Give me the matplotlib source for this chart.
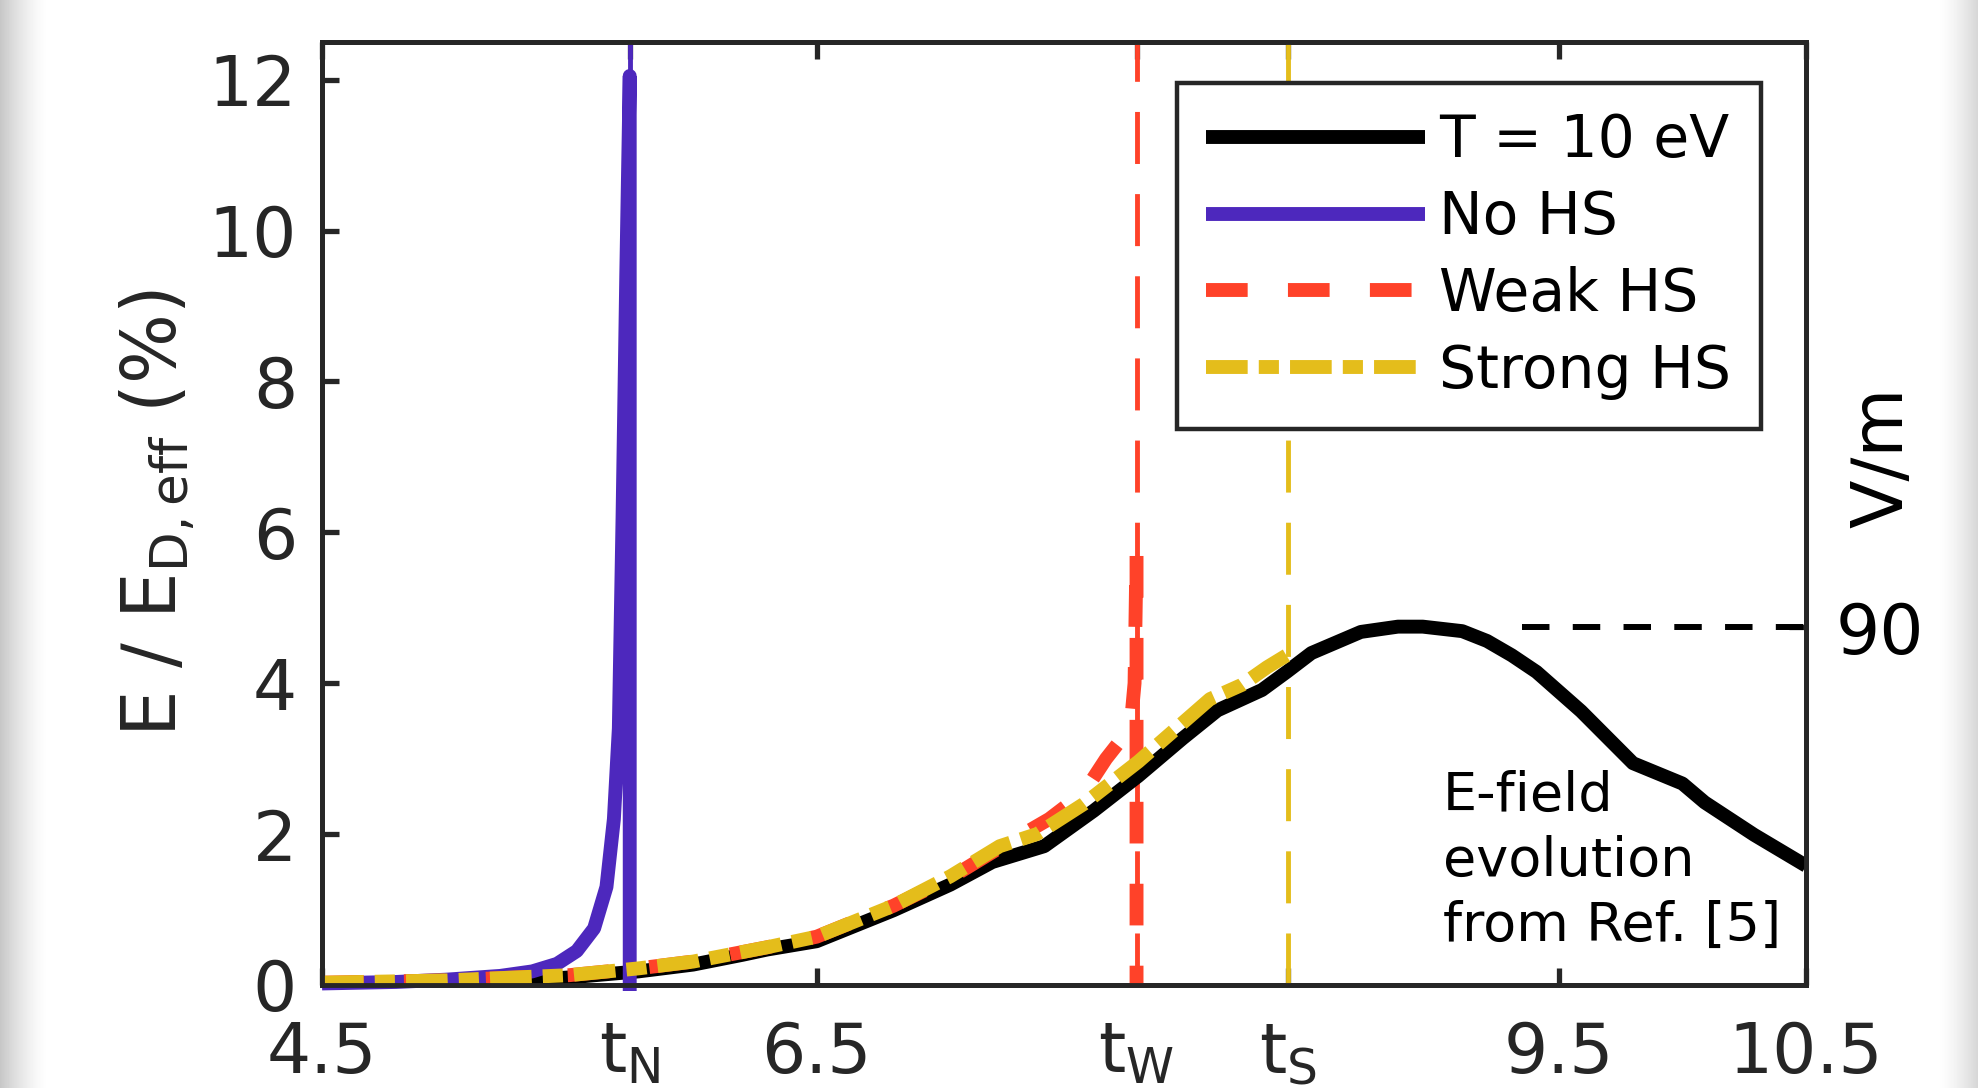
import numpy as np
import matplotlib.pyplot as plt

plt.rcParams['font.family'] = 'DejaVu Sans'
plt.rcParams['mathtext.default'] = 'regular'

# characteristic times (ms)
t_N, t_W, t_S = 5.744, 7.793, 8.405

# T = 10 eV, E-field evolution (% of E_D,eff)
t_ref = [4.5, 4.8, 5.0, 5.26, 5.5, 5.78, 6.0, 6.2, 6.3, 6.5, 6.81, 7.04, 7.21, 7.42, 7.62,
         7.8, 7.98, 8.12, 8.3, 8.4, 8.5, 8.7, 8.85, 8.95, 9.11, 9.21, 9.31, 9.41, 9.59,
         9.8, 10.0, 10.09, 10.29, 10.5]
E_ref = [0.0, 0.02, 0.03, 0.05, 0.1, 0.18, 0.27, 0.4, 0.47, 0.58, 0.99, 1.33, 1.63, 1.84, 2.31,
         2.77, 3.27, 3.64, 3.91, 4.15, 4.4, 4.68, 4.75, 4.75, 4.69, 4.56, 4.37, 4.15, 3.63,
         2.94, 2.67, 2.42, 1.99, 1.58]

# No HS
t_nohs = [4.5, 4.8, 5.0, 5.22, 5.35, 5.45, 5.53, 5.6, 5.65, 5.68, 5.7, 5.715, 5.73, 5.744, 5.744]
E_nohs = [0.02, 0.04, 0.07, 0.12, 0.18, 0.28, 0.45, 0.75, 1.3, 2.2, 3.4, 6.2, 9.4, 12.05, -0.08]

# Weak HS
t_weak = [4.5, 5.0, 5.5, 5.78, 6.0, 6.3, 6.5, 6.81, 7.04, 7.24, 7.44, 7.58, 7.67, 7.73,
          7.77, 7.785, 7.793, 7.793]
E_weak = [0.03, 0.06, 0.13, 0.22, 0.31, 0.5, 0.64, 1.05, 1.42, 1.82, 2.2, 2.55, 3.0, 3.25,
          3.46, 4.0, 5.76, 0.0]

# Strong HS
t_strong = [4.5, 5.0, 5.5, 5.78, 6.0, 6.3, 6.5, 6.81, 7.04, 7.24, 7.39, 7.58, 7.8, 8.09,
            8.22, 8.32, 8.405]
E_strong = [0.03, 0.06, 0.13, 0.22, 0.31, 0.5, 0.64, 1.05, 1.44, 1.84, 2.0, 2.4, 2.96, 3.79,
            3.98, 4.21, 4.38]

xtick_vals = [4.5, t_N, 6.5, t_W, t_S, 9.5, 10.5]
xtick_labels = ['4.5', '$t_N$', '6.5', '$t_W$', '$t_S$', '9.5', '10.5']
ytick_vals = [0, 2, 4, 6, 8, 10, 12]

E_at_90 = 4.745   # 90 V/m expressed in % of E_D,eff
field_ticks = [90]

purple = '#4d28bd'
red = '#ff4229'
yellow = '#e4bd1b'
dark = '#262626'

fig = plt.figure(figsize=(19.78, 10.88), dpi=100)

# page shading at left/right edges
bg = fig.add_axes([0, 0, 1, 1], zorder=-10)
bg.axis('off')
shade = np.ones(1978)
shade[:50] = 1 - 0.22 * np.linspace(1, 0, 50) ** 1.5
shade[-42:] = 1 - 0.16 * np.linspace(0, 1, 42) ** 1.5
bg.imshow(shade[None, :], cmap='gray', vmin=0, vmax=1, aspect='auto', extent=[0, 1, 0, 1])

ax = fig.add_axes([0.1628, 0.0947, 0.7503, 0.8667])
ax.set_xlim(4.5, 10.5)
ax.set_ylim(0, 12.5)

# marker lines at t_N, t_W, t_S
for t, c in [(t_N, purple), (t_W, red), (t_S, yellow)]:
    ax.plot([t, t], [0, 12.5], color=c, lw=3.5, dashes=(10.7, 6.2), zorder=3)

l_ref, = ax.plot(t_ref, E_ref, color='k', lw=10, zorder=4, solid_capstyle='butt')
l_no, = ax.plot(t_nohs, E_nohs, color=purple, lw=10, zorder=5, solid_capstyle='butt',
                clip_on=False)
l_weak, = ax.plot(t_weak, E_weak, color=red, lw=10, dashes=(3.0, 2.9), zorder=6,
                  dash_capstyle='butt')
l_strong, = ax.plot(t_strong, E_strong, color=yellow, lw=10, dashes=(3.0, 0.8, 1.45, 0.8),
                    zorder=7, dash_capstyle='butt')

ax.set_xticks(xtick_vals)
ax.set_xticklabels(xtick_labels)
ax.set_yticks(ytick_vals)
ax.tick_params(direction='in', length=12, width=3.8, top=True, right=False,
               labelsize=50, colors=dark)
ax.tick_params(axis='x', pad=25)
ax.tick_params(axis='y', pad=18)
for s in ax.spines.values():
    s.set_linewidth(3.5)
    s.set_color(dark)

ax.set_ylabel('E / E$_{D,eff}$ (%)', fontsize=53, color=dark)
ax.yaxis.set_label_coords(-0.085, 0.5)

ax.text(9.03, 1.64, 'E-field\nevolution\nfrom Ref. [5]', fontsize=39, ha='left', va='center',
        linespacing=1.32, zorder=8)

leg = ax.legend([l_ref, l_no, l_weak, l_strong], ['T = 10 eV', 'No HS', 'Weak HS', 'Strong HS'],
                loc='upper left', bbox_to_anchor=(0.576, 0.9565), borderaxespad=0,
                fontsize=42, handlelength=3.75, handletextpad=0.25, labelspacing=0.34,
                borderpad=0.5, fancybox=False, framealpha=1, edgecolor=dark)
leg.get_frame().set_linewidth(3.2)

# right axis in V/m
ax2 = ax.twinx()
ax2.set_ylim(0, 12.5 * 90 / E_at_90)
ax2.set_yticks(field_ticks)
ax2.tick_params(direction='in', length=12, width=3.8, labelsize=50, pad=21,
                color=dark, labelcolor='k')
for s in ax2.spines.values():
    s.set_linewidth(3.5)
    s.set_color(dark)
ax2.plot([9.35, 10.5], [90, 90], color='k', lw=4.3, dashes=(4.6, 3.9))
ax2.text(1.052, 0.56, 'V/m', transform=ax2.transAxes, rotation=90, fontsize=51,
         ha='center', va='center')

fig.savefig('out.png', dpi=100)
